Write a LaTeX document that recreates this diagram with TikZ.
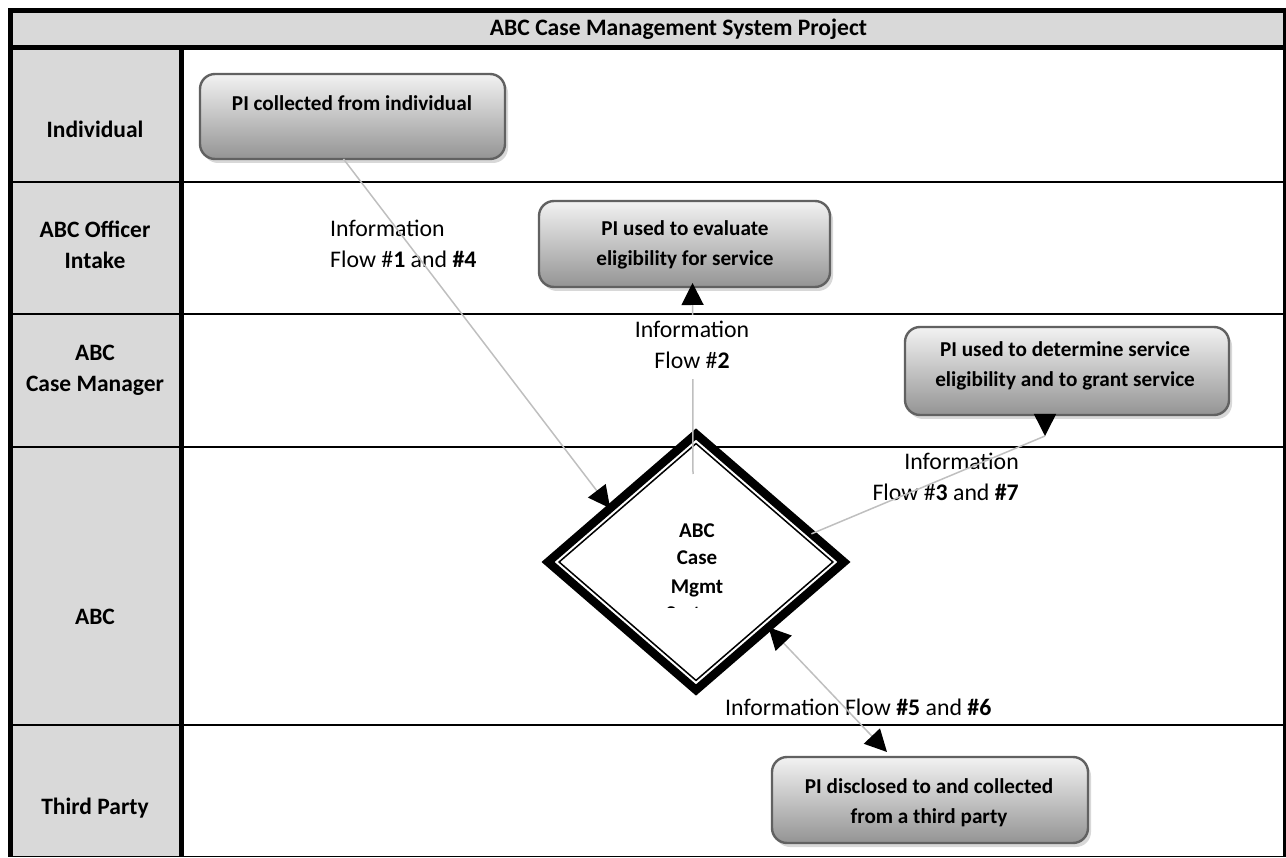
\documentclass[tikz,border=0pt]{standalone}
\usepackage{fontspec}
\setmainfont{Carlito}
\usetikzlibrary{arrows.meta,shadows,calc,shapes.geometric}
\definecolor{lanegray}{HTML}{D9D9D9}
\definecolor{conngray}{HTML}{BFBFBF}
\newcommand\mlines[2]{\begin{tabular}[t]{@{}#1@{}}#2\end{tabular}}
\begin{document}
\begin{tikzpicture}[x=1pt,y=-1pt,
  >={Triangle[length=22pt,width=22pt,color=black]},
  lanelabel/.style={font=\fontsize{23.5}{31}\selectfont\bfseries, anchor=base, inner sep=0pt},
  boxtext/.style={font=\fontsize{21.2}{30}\selectfont\bfseries, anchor=base, inner sep=0pt},
  dmtext/.style={font=\fontsize{21}{28}\selectfont\bfseries, anchor=base, inner sep=0pt},
  flowlabel/.style={font=\fontsize{23.8}{31}\selectfont, anchor=base, inner sep=0pt},
  pibox/.style={draw=black!62, line width=2.4pt, rounded corners=15pt, inner sep=0pt, outer sep=0pt,
    top color=black!5, bottom color=black!42,
    drop shadow={shadow xshift=3pt, shadow yshift=-4pt, fill=black!30}},
  conn/.style={draw=conngray, line width=1.5pt}]
\useasboundingbox (0,0) rectangle (1286,858);
% frame
\fill[lanegray] (13,13) rectangle (1283,45);
\fill[lanegray] (13,50) rectangle (179,857);
\foreach \yy in {182,314,447,725} {\draw[line width=2pt] (13,\yy) -- (1283,\yy);}
\fill (8,8) rectangle (1283,13);
\fill (8,45) rectangle (1283,50);
\fill (8,8) rectangle (13,857);
\fill (179,50) rectangle (184,857);
\draw[line width=2.5pt] (1284.5,8) -- (1284.5,857);
\draw[line width=1.5pt] (8,856.5) -- (1286,856.5);
% title and lane labels
\node[font=\fontsize{23.6}{28}\selectfont\bfseries, anchor=base, inner sep=0pt] (title) at (678.5,36) {ABC Case Management System Project};
\node[lanelabel] (l1) at (95,138) {Individual};
\node[lanelabel] (l2) at (95,238) {\mlines{c}{ABC Officer\\Intake}};
\node[lanelabel] (l3) at (95,361) {\mlines{c}{ABC\\Case Manager}};
\node[lanelabel] (l4) at (95,624) {ABC};
\node[lanelabel] (l5) at (95,814) {Third Party};
% boxes
\node[pibox, minimum width=305pt, minimum height=85pt] (b1) at (352.5,116.5) {};
\node[pibox, minimum width=291pt, minimum height=86pt] (b2) at (684.5,244) {};
\node[pibox, minimum width=324pt, minimum height=88pt] (b3) at (1067,371) {};
\node[pibox, minimum width=316pt, minimum height=86pt] (b4) at (930,800) {};
\node[boxtext] (t1) at (352,111) {PI collected from individual};
\node[boxtext] (t2) at (685,236) {\mlines{c}{PI used to evaluate\\eligibility for service}};
\node[boxtext] (t3) at (1065,357) {\mlines{c}{PI used to determine service\\eligibility and to grant service}};
\node[boxtext] (t4) at (929,793) {\mlines{c}{PI disclosed to and collected\\from a third party}};
% diamond
\node[draw, fill=white, line width=8.5pt, shape=diamond, minimum width=296pt, minimum height=256pt, inner sep=0pt, outer sep=0pt] (dm) at (696,562) {};
\draw[line width=1.5pt] ($(dm.center)!.925!(dm.north)$) -- ($(dm.center)!.925!(dm.east)$) -- ($(dm.center)!.925!(dm.south)$) -- ($(dm.center)!.925!(dm.west)$) -- cycle;
\begin{scope}
\clip (600,500) rectangle (800,607);
\node[dmtext] (dmt) at (697,537) {\mlines{c}{ABC\\Case\\Mgmt\\System}};
\end{scope}
% flow labels under the lines
\node[flowlabel, anchor=base west] (f1) at (330,237) {\mlines{l}{Information\\Flow \#\textbf{1} and \textbf{\#4}}};
\node[flowlabel, anchor=base east] (f3) at (1019,470) {\mlines{r}{Information\\Flow \#\textbf{3} and \textbf{\#7}}};
\node[flowlabel, anchor=base west] (f56) at (725,715) {Information Flow \textbf{\#5} and \textbf{\#6}};
% connectors
\draw[conn, ->] ($(b1.south)+(-9,0)$) -- ($(dm.west)!0.42!(dm.north)$);
\draw[conn, ->] ($(dm.north)+(-3,40)$) -- ($(b2.south)+(8,-4)$);
\coordinate (c3) at ($(b3.south)+(-22,21)$);
\draw[conn] ($(dm.north)!0.78!(dm.east)$) -- (c3);
\draw[conn, ->] ($(b3.south)+(-22,0)$) -- (c3);
\draw[conn, <->] ($(dm.east)!0.51!(dm.south)$) -- ($(b4.north)+(-43,-5)$);
% label that hides its line
\node[flowlabel, fill=white, inner sep=1pt] (f2) at (692,338) {\mlines{c}{Information\\Flow \#\textbf{2}}};
\end{tikzpicture}
\end{document}
